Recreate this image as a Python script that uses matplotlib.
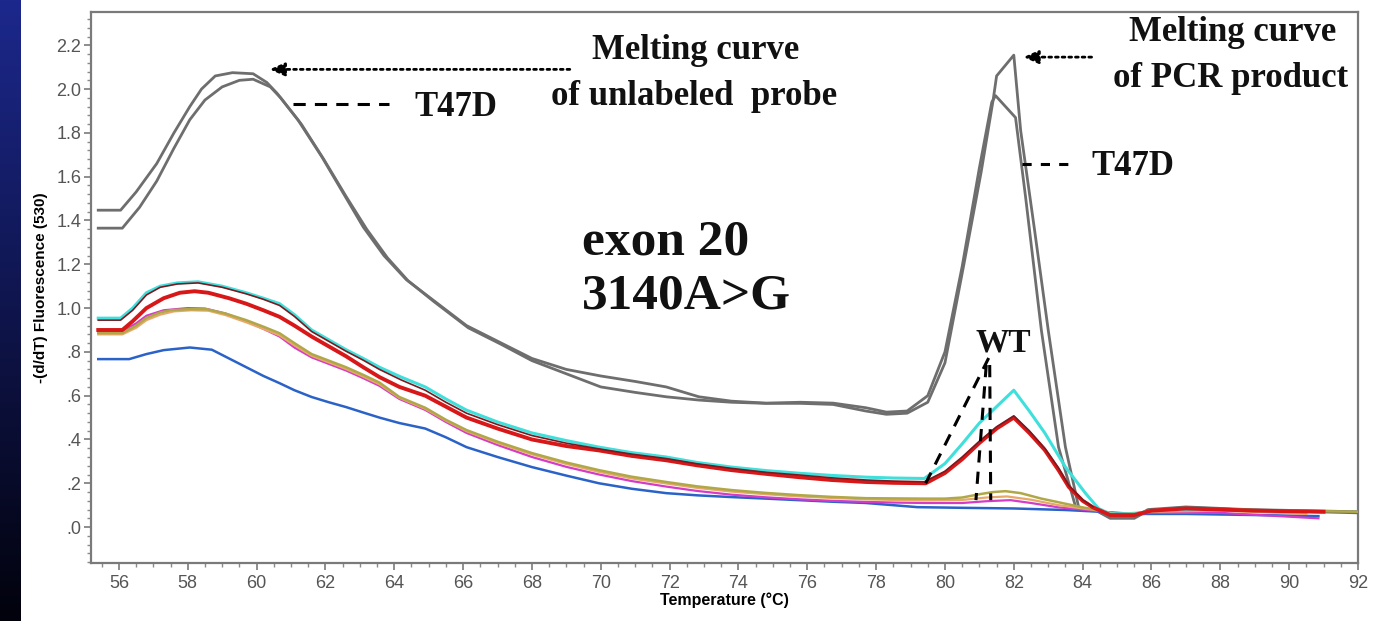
import numpy as np
import matplotlib
matplotlib.use("Agg")
import matplotlib.pyplot as plt
from matplotlib.ticker import MultipleLocator, FixedLocator

# ---------------- data ----------------
gray1_x = [55.4, 56.05, 56.5, 57.1, 57.6, 58.06, 58.4, 58.8, 59.3, 59.9, 60.3, 60.6, 61.2, 61.9, 62.5, 63.1, 63.7,
           64.35, 65.1, 66.1, 67.05, 68.0, 69.0, 70.0, 71.0, 71.9, 72.85, 73.8, 74.8, 75.8, 76.75, 77.7, 78.3,
           78.9, 79.5, 80.0, 80.5, 81.0, 81.36, 81.47, 82.05, 82.34, 82.8, 83.3, 83.8, 84.4, 84.8, 85.5, 85.9,
           87.0, 88.8, 92.0]
gray1_y = [1.447, 1.447, 1.53, 1.66, 1.80, 1.92, 2.00, 2.06, 2.075, 2.07, 2.03, 1.98, 1.86, 1.69, 1.53, 1.37, 1.24,
           1.13, 1.04, 0.92, 0.845, 0.77, 0.72, 0.69, 0.665, 0.64, 0.595, 0.575, 0.566, 0.57, 0.566, 0.545, 0.525,
           0.53, 0.60, 0.80, 1.19, 1.64, 1.94, 1.97, 1.87, 1.51, 0.90, 0.365, 0.09, 0.075, 0.04, 0.04, 0.075,
           0.09, 0.078, 0.065]

gray2_x = [55.4, 56.1, 56.6, 57.1, 57.6, 58.06, 58.5, 59.0, 59.5, 59.9, 60.4, 60.7, 61.3, 61.95, 62.6, 63.2, 63.8,
           64.4, 65.15, 66.15, 67.1, 68.0, 69.0, 70.0, 71.0, 71.9, 72.85, 73.8, 74.8, 75.8, 76.75, 77.7, 78.3,
           78.9, 79.5, 80.0, 80.55, 81.05, 81.4, 81.5, 82.0, 82.2, 82.6, 83.0, 83.5, 83.9, 84.4, 84.8, 85.5,
           85.9, 87.0, 88.8, 92.0]
gray2_y = [1.365, 1.365, 1.46, 1.58, 1.73, 1.86, 1.95, 2.01, 2.04, 2.045, 2.01, 1.96, 1.84, 1.68, 1.51, 1.36, 1.23,
           1.125, 1.03, 0.91, 0.835, 0.76, 0.70, 0.64, 0.615, 0.595, 0.58, 0.57, 0.565, 0.565, 0.56, 0.53, 0.515,
           0.52, 0.57, 0.75, 1.20, 1.62, 1.95, 2.06, 2.155, 1.81, 1.36, 0.90, 0.365, 0.08, 0.075, 0.045, 0.045,
           0.08, 0.092, 0.08, 0.07]

cyan_x = [55.4, 56.05, 56.4, 56.8, 57.2, 57.7, 58.3, 59.0, 59.7, 60.2, 60.67, 61.1, 61.6, 62.1, 62.6, 63.1, 63.57,
          64.2, 64.9, 65.5, 66.1, 67.0, 68.0, 69.0, 69.95, 70.9, 71.9, 72.8, 73.8, 74.8, 75.75, 76.7, 77.7, 78.5,
          79.4, 80.0, 80.5, 81.0, 81.5, 82.0, 82.45, 82.9, 83.5, 84.08, 84.46, 84.8, 85.5, 86.0, 87.0, 89.0, 91.0]
cyan_y = [0.954, 0.954, 1.0, 1.07, 1.10, 1.115, 1.12, 1.10, 1.07, 1.045, 1.02, 0.97, 0.90, 0.855, 0.81, 0.77, 0.73,
          0.685, 0.64, 0.585, 0.534, 0.48, 0.43, 0.395, 0.365, 0.34, 0.32, 0.295, 0.274, 0.258, 0.246, 0.236, 0.228,
          0.224, 0.222, 0.29, 0.38, 0.475, 0.55, 0.625, 0.53, 0.43, 0.274, 0.155, 0.085, 0.06, 0.06, 0.075, 0.08,
          0.075, 0.07]

darkred_x = [55.4, 56.05, 56.4, 56.8, 57.2, 57.7, 58.3, 59.0, 59.7, 60.2, 60.67, 61.1, 61.6, 62.1, 62.6, 63.1,
             63.57, 64.2, 64.9, 65.5, 66.1, 67.0, 68.0, 69.0, 69.95, 70.9, 71.9, 72.8, 73.8, 74.8, 75.75, 76.7,
             77.7, 78.5, 79.4, 80.0, 80.5, 81.0, 81.5, 82.0, 82.45, 82.9, 83.3, 83.6, 84.0, 84.3]
darkred_y = [0.945, 0.945, 0.99, 1.06, 1.095, 1.11, 1.115, 1.095, 1.065, 1.04, 1.012, 0.962, 0.893, 0.848, 0.803,
             0.762, 0.72, 0.672, 0.625, 0.57, 0.52, 0.468, 0.418, 0.383, 0.357, 0.333, 0.313, 0.289, 0.268, 0.25,
             0.238, 0.225, 0.215, 0.21, 0.207, 0.255, 0.32, 0.392, 0.458, 0.508, 0.44, 0.36, 0.27, 0.19, 0.125, 0.093]

red_x = [55.4, 56.1, 56.4, 56.8, 57.3, 57.77, 58.2, 58.6, 59.2, 59.7, 60.2, 60.67, 61.1, 61.6, 62.1, 62.6, 63.1,
         63.57, 64.15, 64.9, 65.5, 66.1, 67.0, 68.0, 69.0, 69.95, 70.9, 71.9, 72.8, 73.8, 74.8, 75.75, 76.7, 77.7,
         78.5, 79.44, 80.0, 80.5, 81.0, 81.5, 82.0, 82.45, 82.9, 83.3, 83.6, 84.0, 84.3, 84.8, 85.5, 86.0, 87.0,
         89.0, 91.0]
red_y = [0.90, 0.90, 0.94, 1.0, 1.045, 1.07, 1.077, 1.07, 1.045, 1.02, 0.99, 0.96, 0.92, 0.87, 0.825, 0.78, 0.73,
         0.685, 0.64, 0.60, 0.55, 0.50, 0.45, 0.40, 0.37, 0.35, 0.325, 0.305, 0.282, 0.26, 0.243, 0.228, 0.215,
         0.206, 0.202, 0.20, 0.247, 0.31, 0.384, 0.45, 0.50, 0.43, 0.352, 0.26, 0.183, 0.12, 0.09, 0.055, 0.055,
         0.075, 0.085, 0.075, 0.07]

olive_x = [55.4, 56.1, 56.5, 56.8, 57.2, 57.5, 58.0, 58.55, 59.1, 59.7, 60.2, 60.67, 61.1, 61.6, 62.1, 62.6, 63.1,
           63.57, 64.15, 64.9, 65.5, 66.1, 67.0, 68.0, 69.0, 69.95, 70.9, 71.9, 72.8, 73.8, 74.8, 75.75, 76.7,
           77.7, 78.5, 79.4, 80.0, 80.5, 81.0, 81.4, 81.76, 82.2, 82.8, 83.4, 84.0, 84.45, 84.8, 85.5, 86.0, 88.0,
           90.0, 92.0]
olive_y = [0.886, 0.886, 0.92, 0.955, 0.98, 0.99, 0.995, 0.995, 0.975, 0.945, 0.915, 0.885, 0.84, 0.79, 0.76,
           0.73, 0.695, 0.66, 0.594, 0.545, 0.49, 0.443, 0.39, 0.338, 0.295, 0.26, 0.23, 0.206, 0.186, 0.169, 0.156,
           0.146, 0.138, 0.132, 0.131, 0.13, 0.13, 0.135, 0.15, 0.16, 0.164, 0.155, 0.13, 0.11, 0.09, 0.078, 0.06,
           0.06, 0.075, 0.08, 0.075, 0.07]

orange_x = [55.4, 56.1, 56.5, 56.8, 57.2, 57.6, 58.1, 58.6, 59.1, 59.7, 60.2, 60.67, 61.1, 61.6, 62.1, 62.6, 63.1,
            63.57, 64.15, 64.9, 65.5, 66.1, 67.0, 68.0, 69.0, 69.95, 70.9, 71.9, 72.8, 73.8, 74.8, 75.75, 76.7,
            77.7, 78.5, 79.4, 80.5, 81.2, 81.8, 82.5, 83.3, 84.0, 84.5, 85.0, 86.0, 88.0, 90.5]
orange_y = [0.88, 0.88, 0.91, 0.945, 0.97, 0.985, 0.99, 0.988, 0.968, 0.935, 0.905, 0.875, 0.83, 0.782, 0.752,
            0.722, 0.687, 0.652, 0.59, 0.54, 0.486, 0.438, 0.384, 0.332, 0.288, 0.252, 0.222, 0.199, 0.179, 0.162,
            0.15, 0.14, 0.133, 0.127, 0.124, 0.122, 0.124, 0.135, 0.14, 0.125, 0.1, 0.085, 0.075, 0.06, 0.07,
            0.075, 0.06]

magenta_x = [55.4, 56.1, 56.5, 56.8, 57.3, 58.0, 58.5, 59.1, 59.7, 60.2, 60.67, 61.1, 61.6, 62.1, 62.6, 63.1, 63.57,
             64.15, 64.9, 65.5, 66.1, 67.0, 68.0, 69.0, 69.95, 70.9, 71.9, 72.8, 73.8, 74.8, 75.75, 76.7, 77.7,
             78.5, 79.4, 80.5, 81.2, 81.9, 82.5, 83.3, 84.0, 84.5, 85.0, 86.0, 88.0, 90.85]
magenta_y = [0.895, 0.895, 0.93, 0.965, 0.99, 1.0, 0.998, 0.975, 0.94, 0.905, 0.87, 0.82, 0.775, 0.745, 0.715,
             0.68, 0.645, 0.585, 0.535, 0.48, 0.43, 0.375, 0.32, 0.275, 0.24, 0.21, 0.185, 0.165, 0.148, 0.136,
             0.127, 0.12, 0.115, 0.112, 0.11, 0.11, 0.118, 0.123, 0.11, 0.09, 0.08, 0.072, 0.055, 0.065, 0.065,
             0.04]

blue_x = [55.4, 56.3, 56.8, 57.3, 58.06, 58.7, 59.2, 59.7, 60.2, 60.67, 61.1, 61.6, 62.1, 62.6, 63.1, 63.57, 64.15,
          64.9, 65.5, 66.1, 67.0, 68.0, 69.0, 69.95, 70.9, 71.9, 72.8, 73.8, 74.8, 75.75, 76.7, 77.7, 78.5, 79.2,
          80.5, 82.0, 83.5, 84.5, 85.5, 87.0, 89.0, 90.85]
blue_y = [0.767, 0.767, 0.79, 0.808, 0.82, 0.81, 0.77, 0.73, 0.69, 0.657, 0.625, 0.594, 0.57, 0.548, 0.523, 0.50,
          0.475, 0.45, 0.41, 0.365, 0.32, 0.274, 0.235, 0.20, 0.175, 0.155, 0.145, 0.137, 0.13, 0.123, 0.116, 0.11,
          0.10, 0.091, 0.088, 0.085, 0.078, 0.07, 0.06, 0.06, 0.055, 0.05]

x_ticks = [56, 58, 60, 62, 64, 66, 68, 70, 72, 74, 76, 78, 80, 82, 84, 86, 88, 90, 92]
y_ticks = [0.0, 0.2, 0.4, 0.6, 0.8, 1.0, 1.2, 1.4, 1.6, 1.8, 2.0, 2.2]
y_tick_labels = [".0", ".2", ".4", ".6", ".8", "1.0", "1.2", "1.4", "1.6", "1.8", "2.0", "2.2"]

# ---------------- figure ----------------
W, H = 1384, 621
fig = plt.figure(figsize=(W / 100, H / 100), dpi=100)
fig.patch.set_facecolor("white")

# blue slide edge on the left
band = fig.add_axes([0, 0, 21 / W, 1])
grad = np.linspace(0, 1, 256).reshape(-1, 1)
top_c = np.array([28, 40, 140]) / 255.0
bot_c = np.array([2, 2, 12]) / 255.0
img = top_c[None, None, :] * (1 - grad[:, :, None]) + bot_c[None, None, :] * grad[:, :, None]
band.imshow(img, aspect="auto", extent=[0, 1, 0, 1])
band.set_axis_off()

left, right, top, bottom = 91, 1358, 12, 563
ax = fig.add_axes([left / W, 1 - bottom / H, (right - left) / W, (bottom - top) / H])
ax.set_xlim(55.19, 92.0)
ax.set_ylim(-0.164, 2.352)

GRAY = "#6e6e6e"
ax.plot(gray1_x, gray1_y, color=GRAY, lw=2.0, zorder=3)
ax.plot(gray2_x, gray2_y, color=GRAY, lw=2.0, zorder=3)
ax.plot(blue_x, blue_y, color="#2a62c8", lw=1.8, zorder=4)
ax.plot(magenta_x, magenta_y, color="#d43cc8", lw=1.6, zorder=4)
ax.plot(orange_x, orange_y, color="#e8a868", lw=1.6, zorder=4)
ax.plot(olive_x, olive_y, color="#b0a848", lw=1.8, zorder=4)
ax.plot(cyan_x, cyan_y, color="#3fe0dc", lw=2.2, zorder=5)
ax.plot(red_x, red_y, color="#d81818", lw=2.8, zorder=5)
ax.plot(darkred_x, darkred_y, color="#7a1a20", lw=1.2, zorder=6)

# axes styling
for s in ax.spines.values():
    s.set_color("#7a7a7a")
    s.set_linewidth(1.6)
ax.xaxis.set_major_locator(FixedLocator(x_ticks))
ax.xaxis.set_minor_locator(MultipleLocator(0.5))
ax.yaxis.set_major_locator(FixedLocator(y_ticks))
ax.set_yticklabels(y_tick_labels)
ax.yaxis.set_minor_locator(MultipleLocator(0.04))
ax.tick_params(axis="both", which="major", direction="out", length=5, width=1.2, color="#7a7a7a",
               labelsize=13, labelcolor="#555555")
ax.tick_params(axis="both", which="minor", direction="out", length=3, width=1.0, color="#8a8a8a")
ax.tick_params(axis="x", pad=4)
ax.tick_params(axis="y", pad=2)
for lab in ax.get_xticklabels() + ax.get_yticklabels():
    lab.set_family(["Liberation Sans", "DejaVu Sans"])

ax.set_xlabel("Temperature (°C)", fontsize=11.5, fontweight="bold", family=["Liberation Sans", "DejaVu Sans"],
              labelpad=0)
ax.set_ylabel("-(d/dT) Fluorescence (530)", fontsize=11, fontweight="bold",
              family=["Liberation Sans", "DejaVu Sans"], labelpad=6)

# annotations
serif = dict(family=["Liberation Serif", "DejaVu Serif"], fontweight="bold", color="#111111")
ax.text(72.75, 2.175, "Melting curve", fontsize=25, ha="center", va="center", **serif)
ax.text(72.7, 1.965, "of unlabeled  probe", fontsize=25, ha="center", va="center", **serif)
ax.text(65.8, 1.915, "T47D", fontsize=25, ha="center", va="center", **serif)
ax.text(88.35, 2.26, "Melting curve", fontsize=25, ha="center", va="center", **serif)
ax.text(88.3, 2.05, "of PCR product", fontsize=25, ha="center", va="center", **serif)
ax.text(85.45, 1.645, "T47D", fontsize=25, ha="center", va="center", **serif)
ax.text(69.45, 1.30, "exon 20", fontsize=37, ha="left", va="center", **serif)
ax.text(69.45, 1.055, "3140A>G", fontsize=37, ha="left", va="center", **serif)
ax.text(81.7, 0.84, "WT", fontsize=24, ha="center", va="center", **serif)

# dotted arrows
ax.annotate("", xy=(60.38, 2.09), xytext=(69.1, 2.09),
            arrowprops=dict(arrowstyle="-|>,head_length=0.9,head_width=0.4", color="black", lw=2.0,
                            linestyle=(0, (1, 1.4)), shrinkA=0, shrinkB=0), zorder=7)
ax.annotate("", xy=(82.28, 2.146), xytext=(84.26, 2.146),
            arrowprops=dict(arrowstyle="-|>,head_length=0.9,head_width=0.4", color="black", lw=2.0,
                            linestyle=(0, (1, 1.4)), shrinkA=0, shrinkB=0), zorder=7)
# dashed leaders
ax.plot([61.05, 63.86], [1.93, 1.93], color="black", lw=2.2, linestyle=(0, (4, 3)), zorder=7)
ax.plot([82.23, 83.73], [1.66, 1.66], color="black", lw=2.2, linestyle=(0, (3, 3)), zorder=7)
ax.plot([81.27, 79.44], [0.772, 0.20], color="black", lw=2.2, linestyle=(0, (4, 3)), zorder=7)
ax.plot([81.2, 80.9], [0.74, 0.123], color="black", lw=2.2, linestyle=(0, (4, 3)), zorder=7)
ax.plot([81.3, 81.33], [0.74, 0.123], color="black", lw=2.2, linestyle=(0, (4, 3)), zorder=7)

fig.savefig("out.png", dpi=100, facecolor="white")
